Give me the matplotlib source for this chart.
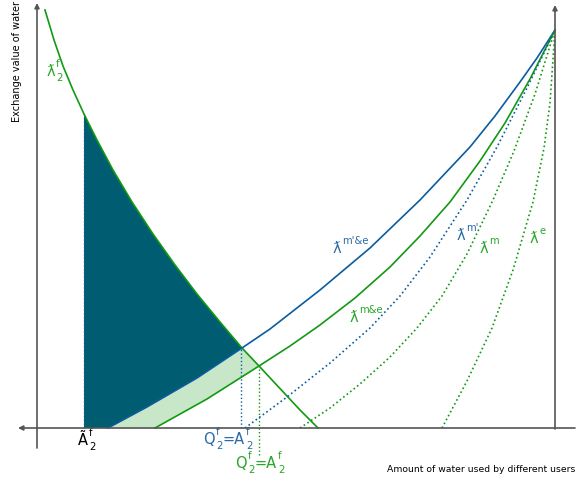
import matplotlib
matplotlib.use("Agg")
import matplotlib.pyplot as plt
import matplotlib.transforms as mtransforms

# ---- data (arbitrary units: x = amount of water, y = exchange value) ----
demand_x = [8, 17, 26, 36, 47, 60, 76, 95, 116, 138, 160, 183, 205, 222, 263, 281]
demand_y = [418, 388, 362, 338, 314, 288, 258, 226, 194, 163, 134, 106, 80, 62, 18, 0]

mpe_x = [71, 110, 160, 205, 233, 283, 333, 383, 433, 458, 483, 500, 518]  # lambda m'&e (blue solid)
mpe_y = [0, 21, 50, 80, 99, 138, 180, 228, 281, 312, 346, 370, 398]

me_x = [118, 170, 222, 253, 283, 318, 353, 383, 413, 443, 468, 493, 518]  # lambda m&e (green solid)
me_y = [0, 29, 62, 82, 103, 130, 161, 192, 226, 267, 305, 349, 398]

mp_x = [208, 250, 293, 333, 363, 393, 430, 460, 490, 518]               # lambda m' (blue dotted)
mp_y = [0, 31, 65, 100, 132, 171, 228, 281, 340, 398]

m_x = [263, 293, 323, 353, 380, 405, 430, 456, 477, 498, 518]           # lambda m (green dotted)
m_y = [0, 20, 44, 71, 100, 132, 174, 228, 277, 334, 398]

e_x = [405, 430, 455, 476, 496, 507, 513, 518]                          # lambda e (green dotted)
e_y = [0, 47, 100, 158, 226, 280, 325, 398]

A_tilde = 47          # Ã^f_2
Q_blue = 205          # Q^f_2 = A^f_2 (blue)
Q_green = 222         # Q^f_2 = A^f_2 (green)
x_max = 518

BLUE = "#0b5c9e"
GREEN = "#119a11"
BLUE_T = "#2b6aa6"
GREEN_T = "#2aa62a"
DARK = "#005c70"
LIGHT = "#c8e6c8"
AXC = "#555555"

fig = plt.figure(figsize=(5.76, 4.8), dpi=100)
ax = fig.add_axes([0, 0, 1, 1])
ax.set_xlim(-37, 539)
ax.set_ylim(-52, 428)
ax.axis("off")

# ---- fills ----
i0 = demand_x.index(A_tilde)
i1 = demand_x.index(Q_blue)
j1 = mpe_x.index(Q_blue)
dark_x = [A_tilde] + demand_x[i0:i1 + 1] + mpe_x[:j1 + 1][::-1]
dark_y = [0] + demand_y[i0:i1 + 1] + mpe_y[:j1 + 1][::-1]
ax.fill(dark_x, dark_y, color=DARK, lw=0, zorder=1)

i2 = demand_x.index(Q_green)
k2 = me_x.index(Q_green)
light_x = mpe_x[:j1 + 1] + demand_x[i1:i2 + 1] + me_x[:k2 + 1][::-1]
light_y = mpe_y[:j1 + 1] + demand_y[i1:i2 + 1] + me_y[:k2 + 1][::-1]
ax.fill(light_x, light_y, color=LIGHT, lw=0, zorder=1)

# ---- curves ----
ax.plot(demand_x, demand_y, color=GREEN, lw=1.2, zorder=3)
ax.plot(mpe_x, mpe_y, color=BLUE, lw=1.2, zorder=3)
ax.plot(me_x, me_y, color=GREEN, lw=1.2, zorder=3)
ax.plot(mp_x, mp_y, color=BLUE, lw=1.2, ls=":", zorder=3)
ax.plot(m_x, m_y, color=GREEN, lw=1.2, ls=":", zorder=3)
ax.plot(e_x, e_y, color=GREEN, lw=1.2, ls=":", zorder=3)

# ---- dotted drop lines ----
ax.plot([A_tilde, A_tilde], [0, demand_y[i0]], color=BLUE, lw=1.0, ls=":", zorder=2)
ax.plot([Q_blue - 1, Q_blue - 1], [0, demand_y[i1]], color=BLUE, lw=1.0, ls=":", zorder=2)
ax.plot([Q_green, Q_green], [-27, demand_y[i2]], color=GREEN, lw=1.0, ls=":", zorder=2)

# ---- axes ----
arr = dict(arrowstyle="-|>", color=AXC, lw=1.2, mutation_scale=7, shrinkA=0, shrinkB=0)
ax.annotate("", xy=(-19, 0), xytext=(538, 0), arrowprops=arr, zorder=4)
ax.annotate("", xy=(0, 425), xytext=(0, -20), arrowprops=arr, zorder=4)
ax.annotate("", xy=(x_max, 423), xytext=(x_max, -1), arrowprops=arr, zorder=4)

ax.text(-20, 367, "Exchange value of water", rotation=90, ha="center", va="center",
        fontsize=7, color="black")
ax.text(538, -42, "Amount of water used by different users", ha="right", va="center",
        fontsize=6.7, color="black")

# ---- rich labels (base + superscript/subscript) ----
fig.canvas.draw()
renderer = fig.canvas.get_renderer()
ident = mtransforms.IdentityTransform()
DPI = fig.dpi


def rich(x, y, parts, color, fs=10.5, sfs=7.2, ha="left"):
    X, Y = ax.transData.transform((x, y))
    items = []
    cursor = X
    for part in parts:
        kind = part[0]
        if kind == "n":
            t = ax.text(cursor, Y, part[1], transform=ident, fontsize=fs, color=color,
                        ha="left", va="baseline")
            w = t.get_window_extent(renderer).width
            items.append(t)
            cursor += w
        else:
            sup, sub = part[1], part[2]
            w = 0
            if sup:
                t = ax.text(cursor + 0.5, Y + fs * 0.60 * DPI / 72, sup, transform=ident,
                            fontsize=sfs, color=color, ha="left", va="baseline")
                w = max(w, t.get_window_extent(renderer).width)
                items.append(t)
            if sub:
                t = ax.text(cursor + 1.0, Y - fs * 0.34 * DPI / 72, sub, transform=ident,
                            fontsize=sfs, color=color, ha="left", va="baseline")
                w = max(w, t.get_window_extent(renderer).width + 0.5)
                items.append(t)
            cursor += w + 1
    if ha == "center":
        shift = (cursor - X) / 2
        for t in items:
            px, py = t.get_position()
            t.set_position((px - shift, py))
    return items


rich(10, 352, [("n", "\u019b"), ("s", "f", "2")], GREEN_T)
rich(296, 175, [("n", "\u019b"), ("s", "m'&e", None)], BLUE_T)
rich(313, 106, [("n", "\u019b"), ("s", "m&e", None)], GREEN_T)
rich(420, 188, [("n", "\u019b"), ("s", "m'", None)], BLUE_T)
rich(443, 175, [("n", "\u019b"), ("s", "m", None)], GREEN_T)
rich(493, 185, [("n", "\u019b"), ("s", "e", None)], GREEN_T)

rich(A_tilde + 3, -17, [("n", "\u00c3"), ("s", "f", "2")], "black", ha="center")
rich(Q_blue - 14, -16, [("n", "Q"), ("s", "f", "2"), ("n", "=A"), ("s", "f", "2")], BLUE_T, ha="center")
rich(Q_green + 1, -40, [("n", "Q"), ("s", "f", "2"), ("n", "=A"), ("s", "f", "2")], GREEN_T, ha="center")

fig.savefig("out.png", dpi=100)
